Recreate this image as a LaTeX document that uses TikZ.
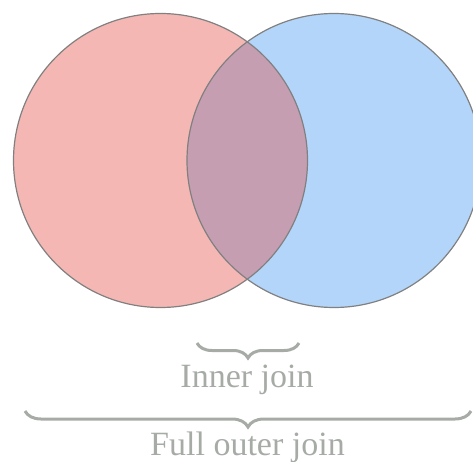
\documentclass[tikz,border=0pt]{standalone}
\usepackage{fontspec}
\setmainfont{Liberation Serif}
\usepackage{tikz}
\usetikzlibrary{decorations.pathreplacing,positioning,calc}
\definecolor{setred}{RGB}{245,183,179}
\definecolor{setblue}{RGB}{179,213,250}
\definecolor{setboth}{RGB}{197,158,177}
\definecolor{edgegray}{RGB}{128,128,128}
\definecolor{labelgray}{RGB}{166,171,166}
\begin{document}
\begin{tikzpicture}[
  x=1pt, y=-1pt,
  setline/.style={draw=edgegray, line width=1.2pt},
  joinbrace/.style={draw=labelgray, line width=3pt, decorate, decoration={brace, mirror, amplitude=#1}},
  joinlabel/.style={text=labelgray, font=\fontsize{34}{40}\selectfont, anchor=base, inner sep=0pt}
]
\useasboundingbox (0,0) rectangle (473,462);
% the two tables
\fill[setred] (160.5,160.5) circle (147);
\fill[setblue] (334,160.5) circle (147);
\begin{scope}
  \clip (160.5,160.5) circle (147);
  \fill[setboth] (334,160.5) circle (147);
\end{scope}
\draw[setline] (160.5,160.5) circle (147);
\draw[setline] (334,160.5) circle (147);
% braces underneath
\coordinate (inL) at (197,343);
\coordinate (inR) at (299,343);
\coordinate (fullL) at (25,411);
\coordinate (fullR) at (471,411);
\draw[joinbrace=15pt] (inL) -- (inR);
\draw[joinbrace=16pt] (fullL) -- (fullR);
\node[joinlabel] (inner) at (247,387) {Inner join};
\node[joinlabel] (full) at (247.5,455) {Full outer join};
\end{tikzpicture}
\end{document}
